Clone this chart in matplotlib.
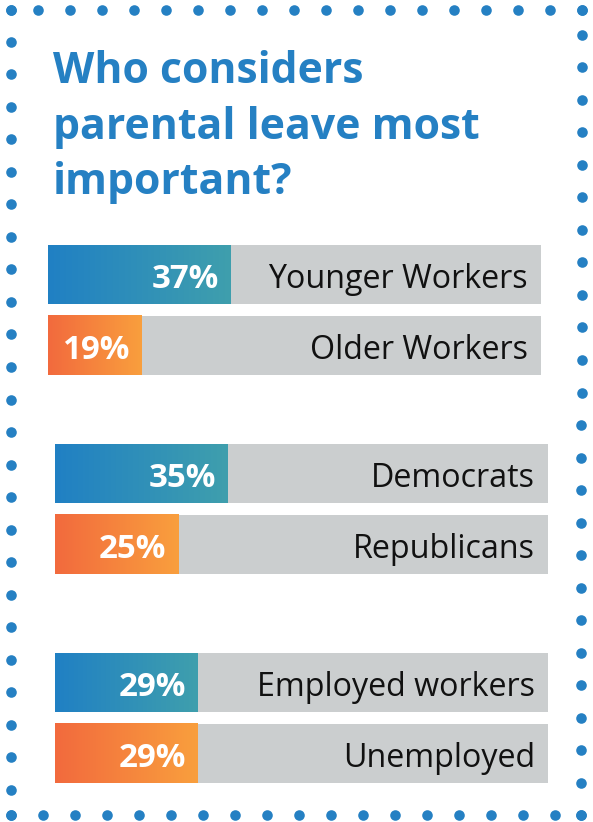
import numpy as np
import matplotlib
matplotlib.use('Agg')
import matplotlib.pyplot as plt
from matplotlib.colors import LinearSegmentedColormap

plt.rcParams['font.family'] = ['Open Sans', 'DejaVu Sans']

TITLE_LINES = ['Who considers', 'parental leave most', 'important?']

# one entry per group: (top label, bottom label), (top value, bottom value)
GROUP_LABELS = [
    ('Younger Workers', 'Older Workers'),
    ('Democrats', 'Republicans'),
    ('Employed workers', 'Unemployed'),
]
GROUP_VALUES = [
    (37, 19),
    (35, 25),
    (29, 29),
]

W, H = 593, 822
BLUE = '#2580c3'
GREY = '#cbcecf'
blue_cmap = LinearSegmentedColormap.from_list('blue', ['#2080c4', '#3f9fad'])
orange_cmap = LinearSegmentedColormap.from_list('orange', ['#f26a3e', '#f99f3d'])

fig = plt.figure(figsize=(W / 100, H / 100), dpi=100)
fig.patch.set_facecolor('white')

# dotted frame drawn in pixel space
bg = fig.add_axes([0, 0, 1, 1], zorder=0)
bg.set_xlim(0, W)
bg.set_ylim(H, 0)
bg.axis('off')
top_x = np.concatenate([[11], 582 - 32 * np.arange(18)])
bot_x = np.concatenate([11 + 32 * np.arange(18), [581]])
left_y = np.concatenate([[10], 42 + 32.5 * np.arange(24), [815]])
right_y = np.concatenate([[10], 35 + 32.5 * np.arange(24), [815]])
dot_kw = dict(s=58, color=BLUE, linewidths=0)
bg.scatter(top_x, np.full(len(top_x), 10), **dot_kw)
bg.scatter(bot_x, np.full(len(bot_x), 815), **dot_kw)
bg.scatter(np.full(len(left_y), 11), left_y, **dot_kw)
bg.scatter(np.linspace(582, 581, len(right_y)), right_y, **dot_kw)

# title
for line, base in zip(TITLE_LINES, [83, 139, 194]):
    fig.text(53 / W, 1 - base / H, line, color=BLUE, fontsize=30.8,
             fontweight='bold', ha='left', va='baseline')

# bar groups: (left px, top px)
group_pos = [(48, 245), (55, 444), (55, 653)]
bar_w, bar_h, pitch = 493, 59, 71
hh = bar_h / pitch / 2

for (x0, y0), labels, values in zip(group_pos, GROUP_LABELS, GROUP_VALUES):
    ax = fig.add_axes([x0 / W, 1 - (y0 + pitch + bar_h) / H,
                       bar_w / W, (pitch + bar_h) / H], zorder=1)
    ax.axis('off')
    ypos = [0, 1]
    ax.barh(ypos, [100, 100], height=2 * hh, color=GREY, linewidth=0, zorder=1)
    grad = np.linspace(0, 1, 256).reshape(1, -1)
    for y, v, cmap in zip(ypos, values, [blue_cmap, orange_cmap]):
        ax.imshow(grad, cmap=cmap, aspect='auto', extent=[0, v, y + hh, y - hh],
                  interpolation='bilinear', zorder=2)
    ax.set_xlim(0, 100)
    ax.set_ylim(1 + hh, -hh)
    for y, v, lab in zip(ypos, values, labels):
        ax.annotate(f'{v}%', xy=(v, y), xytext=(-8.5, -9.4), textcoords='offset points',
                    ha='right', va='baseline', color='white', fontsize=23.8,
                    fontweight='bold', zorder=3)
        ax.annotate(lab, xy=(100, y), xytext=(-9.5, -9.4), textcoords='offset points',
                    ha='right', va='baseline', color='#111111', fontsize=23.2, zorder=3)

fig.savefig('out.png', dpi=100, facecolor='white')
